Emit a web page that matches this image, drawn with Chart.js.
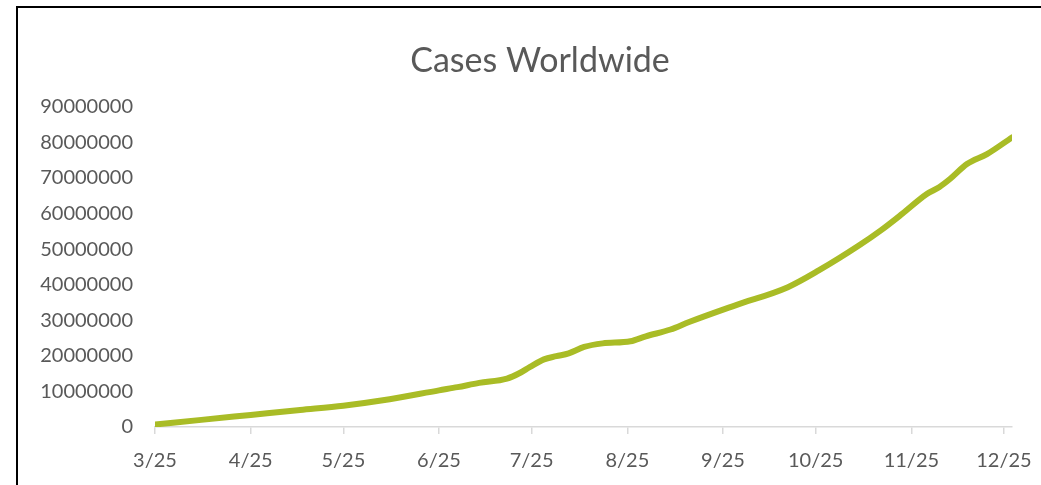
<!DOCTYPE html>
<html>
<head>
<meta charset="utf-8">
<script src="https://cdn.jsdelivr.net/npm/chart.js@4"></script>
<style>
    body { margin: 0; background: #fff; overflow: hidden; }
    #frame {
        position: absolute;
        left: 16px;
        top: 6px;
        width: 1046px;
        height: 520px;
        border: 2px solid #000;
    }
</style>
</head>
<body>
<div id="frame">
    <canvas id="casesChart" width="1044" height="480"></canvas>
</div>
<script>
// Tick labels and their day offsets from 3/25
const tickLabels = ['3/25', '4/25', '5/25', '6/25', '7/25', '8/25', '9/25', '10/25', '11/25', '12/25'];
const tickDays = [0, 31, 61, 92, 122, 153, 184, 214, 245, 275];

// Days since 3/25 and cumulative cases
const days = [0, 15, 31, 47, 61, 76, 92, 98, 105, 114, 118, 121.5, 126, 130, 134, 139, 145, 154,
    159, 167, 173, 188, 205, 215, 228, 235, 242, 250, 254, 257.5, 263, 269.5, 277.6];
const cases = [700000, 2000000, 3400000, 4800000, 6000000, 7800000, 10300000, 11200000, 12400000,
    13600000, 15100000, 16900000, 19000000, 19900000, 20700000, 22500000, 23500000, 24100000,
    25500000, 27400000, 29500000, 34200000, 39300000, 44000000, 51000000, 55200000, 59900000,
    65500000, 67400000, 69700000, 73900000, 76700000, 81400000];

const textColor = '#595959';
const axisColor = '#d9d9d9';

const ctx = document.getElementById('casesChart').getContext('2d');

new Chart(ctx, {
    type: 'line',
    data: {
        datasets: [{
            label: 'Cases',
            data: days.map((d, i) => ({ x: d, y: cases[i] })),
            borderColor: '#a9bc26',
            borderWidth: 6,
            borderCapStyle: 'round',
            pointRadius: 0,
            tension: 0.4,
            cubicInterpolationMode: 'monotone',
            fill: false
        }]
    },
    options: {
        responsive: false,
        animation: false,
        layout: {
            padding: { left: 0, right: 0, top: 20, bottom: 0 }
        },
        plugins: {
            legend: { display: false },
            tooltip: { enabled: false },
            title: {
                display: true,
                text: 'Cases Worldwide',
                color: textColor,
                font: { family: 'Lato', size: 34, weight: 'normal' },
                padding: { top: 13, bottom: 25 }
            }
        },
        scales: {
            x: {
                type: 'linear',
                min: 0,
                max: days[days.length - 1],
                afterBuildTicks: scale => {
                    scale.ticks = tickDays.map(v => ({ value: v }));
                },
                ticks: {
                    color: textColor,
                    font: { family: 'Lato', size: 20 },
                    padding: 15,
                    maxRotation: 0,
                    autoSkip: false,
                    callback: value => tickLabels[tickDays.indexOf(value)]
                },
                grid: {
                    drawOnChartArea: false,
                    color: axisColor,
                    lineWidth: 1.5,
                    tickLength: 7
                },
                border: { color: axisColor, width: 1.5 }
            },
            y: {
                min: 0,
                max: 90000000,
                afterFit: scale => { scale.width = 137; },
                ticks: {
                    stepSize: 10000000,
                    color: textColor,
                    font: { family: 'Lato', size: 20 },
                    padding: 22,
                    callback: value => String(value)
                },
                grid: { display: false, drawTicks: false },
                border: { display: false }
            },
            // empty right-hand strip so the title stays centred on the frame
            spacer: {
                position: 'right',
                afterFit: scale => { scale.width = 50; },
                ticks: { display: false },
                grid: { display: false, drawTicks: false },
                border: { display: false }
            }
        }
    }
});
</script>
</body>
</html>
